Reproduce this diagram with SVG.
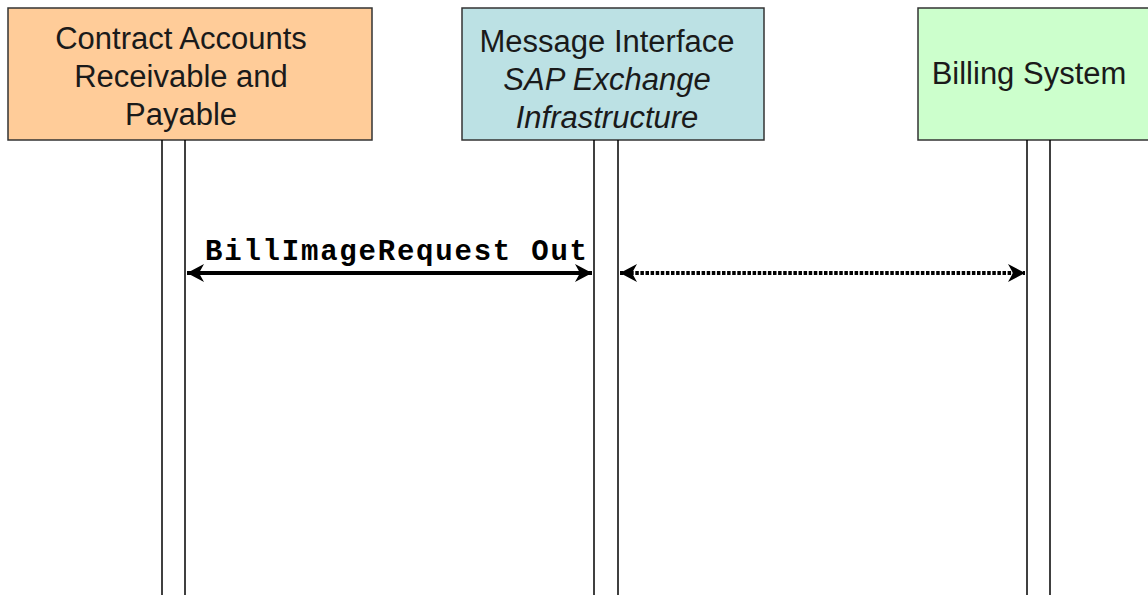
<svg xmlns="http://www.w3.org/2000/svg" width="1148" height="595" viewBox="0 0 1148 595">
<style>
.box{stroke:#333;stroke-width:1.5}
.lbl{font-family:"Liberation Sans",Arial,sans-serif;font-size:31px;fill:#1a1a1a;text-anchor:middle}
.it{font-style:italic}
.life{stroke:#000;stroke-width:1.5;fill:none}
.msg{stroke:#000;stroke-width:4;fill:none}
.dot{stroke-dasharray:3.5 1.6}
.mono{font-family:"Liberation Mono","Courier New",monospace;font-weight:bold;font-size:29px;fill:#000}
</style>
<defs>
<marker id="ah" viewBox="-20 -11 22 22" refX="0" refY="0" markerWidth="22" markerHeight="22" markerUnits="userSpaceOnUse" orient="auto-start-reverse">
<path d="M0,0 L-17,-9 L-12,0 L-17,9 Z" fill="#000"/>
</marker>
</defs>
<rect width="1148" height="595" fill="#fff"/>
<g id="node-fica">
<rect class="box" x="8" y="8" width="364" height="132" fill="#FFCC99"/>
<text class="lbl" x="181" y="49">Contract Accounts</text>
<text class="lbl" x="181" y="87">Receivable and</text>
<text class="lbl" x="181" y="125">Payable</text>
<line class="life" x1="162" y1="140" x2="162" y2="595"/>
<line class="life" x1="185" y1="140" x2="185" y2="595"/>
</g>
<g id="node-xi">
<rect class="box" x="462" y="8" width="302" height="132" fill="#BCE1E4"/>
<text class="lbl" x="607" y="52">Message Interface</text>
<text class="lbl it" x="607" y="90">SAP Exchange</text>
<text class="lbl it" x="607" y="128">Infrastructure</text>
<line class="life" x1="594" y1="140" x2="594" y2="595"/>
<line class="life" x1="618" y1="140" x2="618" y2="595"/>
</g>
<g id="node-billing">
<rect class="box" x="918" y="8" width="240" height="132" fill="#CCFFCC"/>
<text class="lbl" x="1029" y="84">Billing System</text>
<line class="life" x1="1027" y1="140" x2="1027" y2="595"/>
<line class="life" x1="1050" y1="140" x2="1050" y2="595"/>
</g>
<g id="connectors">
<line class="msg" x1="187" y1="273" x2="592" y2="273" marker-start="url(#ah)" marker-end="url(#ah)"/>
<text class="mono" x="205" y="260" textLength="382" lengthAdjust="spacing">BillImageRequest Out</text>
<line class="msg dot" x1="620" y1="273" x2="1025" y2="273" marker-start="url(#ah)" marker-end="url(#ah)"/>
</g>
</svg>
